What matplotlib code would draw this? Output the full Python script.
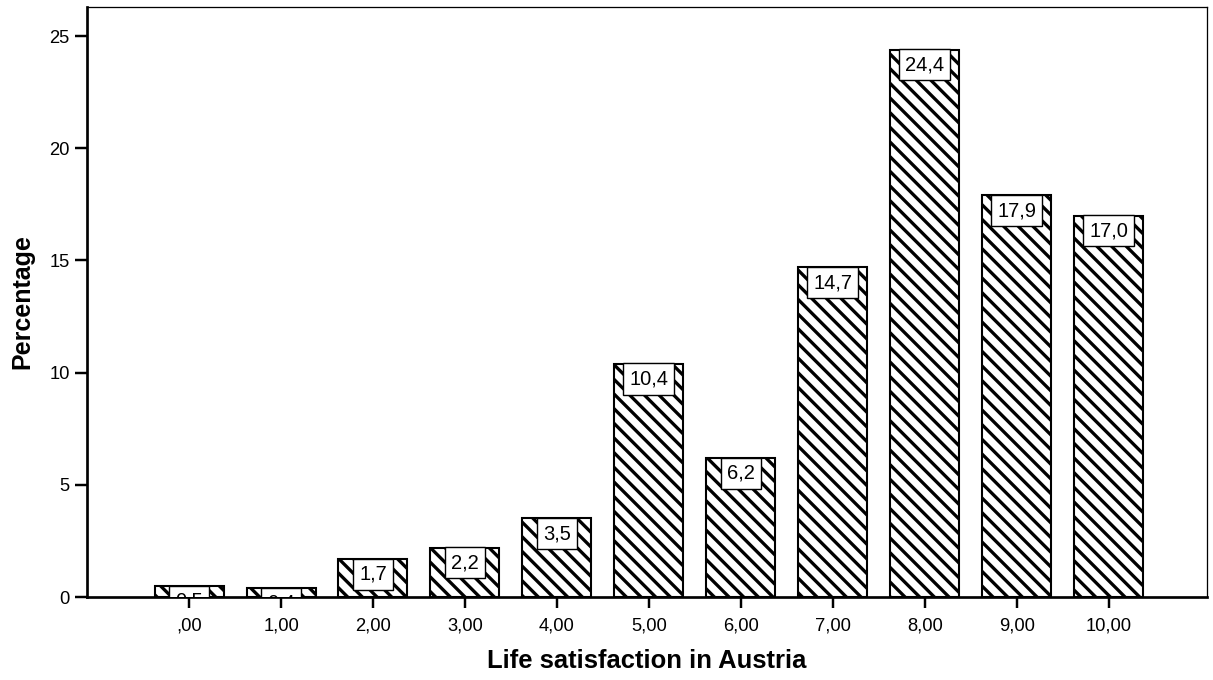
import numpy as np
import matplotlib.pyplot as plt

# dpi chosen so that the '\\' hatch gives ~13 px stripe spacing
DPI = 88
plt.rcParams['font.family'] = ['Liberation Sans', 'DejaVu Sans']
plt.rcParams['hatch.linewidth'] = 2.7

# values
categories = [',00', '1,00', '2,00', '3,00', '4,00', '5,00',
              '6,00', '7,00', '8,00', '9,00', '10,00']
percent = [0.5, 0.4, 1.7, 2.2, 3.5, 10.4, 6.2, 14.7, 24.4, 17.9, 17.0]
yticks = [0, 5, 10, 15, 20, 25]

fig = plt.figure(figsize=(1213 / DPI, 680 / DPI), dpi=DPI)
ax = fig.add_axes([87 / 1213, 83 / 680, 1120 / 1213, 590 / 680])

x = np.arange(len(categories))
ax.bar(x, percent, width=0.75, color='white', edgecolor='black',
       linewidth=1.7, hatch='\\\\')

for xi, v in zip(x, percent):
    lbl = f"{v:.1f}".replace('.', ',')
    ax.annotate(lbl, (xi, v), xytext=(0, -12.5), textcoords='offset points',
                ha='center', va='center', fontsize=16.5, clip_on=True, zorder=3,
                bbox=dict(boxstyle='square,pad=0.3', fc='white', ec='black', lw=1.15))

ax.set_xlim(-1.11, 11.07)
ax.set_ylim(0, 26.3)
ax.set_xticks(x)
ax.set_xticklabels(categories, fontsize=15)
ax.set_yticks(yticks)
ax.set_yticklabels([str(t) for t in yticks], fontsize=15)
ax.tick_params(axis='y', length=9.8, width=2.0, pad=4.4)
ax.tick_params(axis='x', length=8.9, width=2.0, pad=8)

ax.spines['left'].set_linewidth(2.2)
ax.spines['bottom'].set_linewidth(2.2)
ax.spines['top'].set_linewidth(1.05)
ax.spines['right'].set_linewidth(1.05)

ax.set_xlabel('Life satisfaction in Austria', fontsize=21, fontweight='bold')
ax.set_ylabel('Percentage', fontsize=20.5, fontweight='bold')
ax.xaxis.label.set_va('center')
ax.yaxis.label.set_va('center')
ax.xaxis.set_label_coords(0.5, -0.108)
ax.yaxis.set_label_coords(-0.058, 0.5)

plt.savefig('out.png', dpi=DPI)
